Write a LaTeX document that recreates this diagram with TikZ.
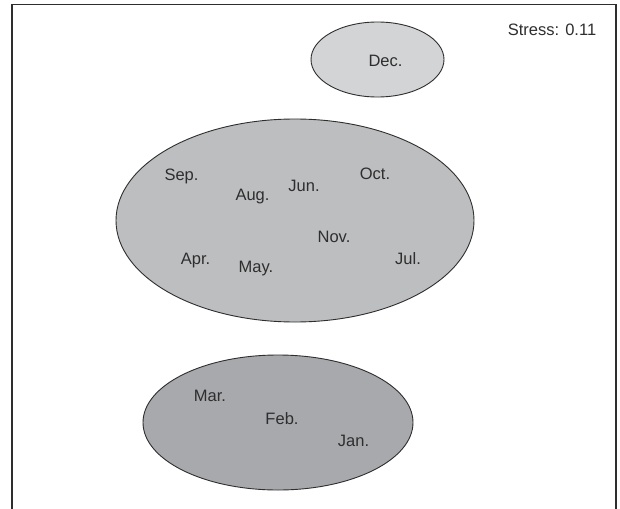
\documentclass[tikz,border=0pt]{standalone}
\usepackage{fontspec}
\setmainfont{Liberation Sans}
\usetikzlibrary{shapes.geometric}
\definecolor{fillA}{HTML}{D3D4D6}
\definecolor{fillB}{HTML}{BDBEC0}
\definecolor{fillC}{HTML}{A8A9AC}
\definecolor{ink}{HTML}{2E2E2E}
\tikzset{
  blob/.style={ellipse, draw=ink, line width=0.9pt, inner sep=0pt},
  lbl/.style={anchor=base, inner sep=0pt, text=ink, font=\fontsize{16.5}{19}\selectfont},
}
\begin{document}
\begin{tikzpicture}[x=1pt,y=-1pt]
\useasboundingbox (0,0) rectangle (620,508);
\fill[white] (0,0) rectangle (620,508);
\draw[ink, line width=1.4pt] (12,512) -- (12,4.5) -- (616,4.5) -- (616,512);
\node[blob, fill=fillA, minimum width=133pt, minimum height=75pt] (dec) at (377.5,59.5) {};
\node[blob, fill=fillB, minimum width=358pt, minimum height=203pt] (big) at (295,220.5) {};
\node[blob, fill=fillC, minimum width=270pt, minimum height=135pt] (low) at (278,422.5) {};
\node[lbl] (stress) at (552,35.7) {Stress: 0.11};
\node[lbl] (tdec) at (385.5,66.7) {Dec.};
\node[lbl] (sep) at (181.5,180.7) {Sep.};
\node[lbl] (aug) at (252.5,200.7) {Aug.};
\node[lbl] (jun) at (304,191.7) {Jun.};
\node[lbl] (oct) at (375,179.3) {Oct.};
\node[lbl] (nov) at (334,242.3) {Nov.};
\node[lbl] (apr) at (195.5,264.3) {Apr.};
\node[lbl] (may) at (256,272.5) {May.};
\node[lbl] (jul) at (408,264.3) {Jul.};
\node[lbl] (mar) at (210,401.7) {Mar.};
\node[lbl] (feb) at (282,424.3) {Feb.};
\node[lbl] (jan) at (353.5,446) {Jan.};
\end{tikzpicture}
\end{document}
